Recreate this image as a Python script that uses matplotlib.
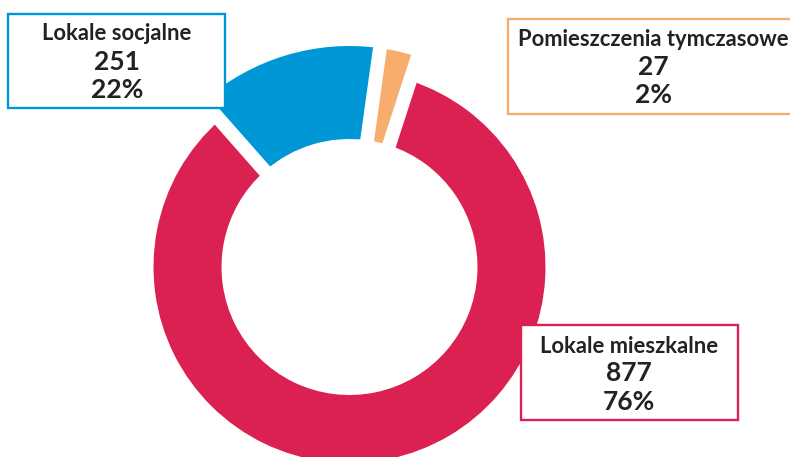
import matplotlib.pyplot as plt
import numpy as np
from matplotlib.patches import Rectangle

categories = ["Lokale mieszkalne", "Lokale socjalne", "Pomieszczenia tymczasowe"]
counts = [877, 251, 27]
percents = [76, 22, 2]
# share of the ring each slice takes in the picture (%)
arc_share = [83.5, 13.7, 2.8]
colors = ["#DB2052", "#0097D7", "#F6AD6E"]

plt.rcParams["font.family"] = ["Lato", "DejaVu Sans"]

fig = plt.figure(figsize=(7.9, 4.57), dpi=100)
ax = fig.add_axes([0, 0, 1, 1])

cx, cy = 349.5, 190
r_in = 128
r_out = [196, 221, 221]
start = 72

wedges, _ = ax.pie(arc_share, colors=colors, startangle=start, counterclock=False,
                   center=(cx, cy), radius=196, wedgeprops=dict(width=196 - r_in))
for w, ro in zip(wedges, r_out):
    w.set_radius(ro)
    w.set_width(ro - r_in)

# white gaps between slices
bounds = start - 360 * np.cumsum([0] + arc_share[:-1]) / 100
for th in bounds:
    t = np.deg2rad(th)
    ax.plot([cx + 110 * np.cos(t), cx + 240 * np.cos(t)],
            [cy + 110 * np.sin(t), cy + 240 * np.sin(t)],
            color="white", lw=10, solid_capstyle="butt", zorder=3)

# label boxes: rect (x0, y0, w, h), text centre x, line y's
box_rects = [(521, 37, 217, 95), (8, 349, 217, 94), (508, 343, 300, 95)]
text_x = [629, 117, 653.5]
text_y = [[110.3, 83.7, 55.3], [424, 395, 367], [417.7, 390.3, 362]]

for i in range(3):
    x0, y0, bw, bh = box_rects[i]
    ax.add_patch(Rectangle((x0, y0), bw, bh, facecolor="white", edgecolor=colors[i],
                           lw=1.7, zorder=5))
    ys = text_y[i]
    ax.text(text_x[i], ys[0], categories[i], ha="center", va="center", fontsize=15.8,
            fontweight="bold", color="#222222", zorder=6)
    ax.text(text_x[i], ys[1], str(counts[i]), ha="center", va="center", fontsize=19,
            fontweight="bold", color="#222222", zorder=6)
    ax.text(text_x[i], ys[2], f"{percents[i]}%", ha="center", va="center", fontsize=19,
            fontweight="bold", color="#222222", zorder=6)

ax.set_xlim(0, 790)
ax.set_ylim(0, 457)
ax.set_aspect("equal")
ax.axis("off")

fig.savefig("out.png", dpi=100)
